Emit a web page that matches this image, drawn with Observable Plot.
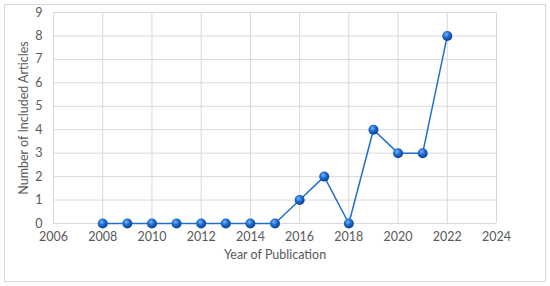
<!DOCTYPE html>
<html>
<head>
<meta charset="utf-8">
<script src="https://cdn.jsdelivr.net/npm/d3@7"></script>
<script src="https://cdn.jsdelivr.net/npm/@observablehq/plot@0.6"></script>
<style>
  html, body { margin: 0; padding: 0; background: #fff; }
  #chart { position: relative; width: 550px; height: 286px; }
  #frame { position: absolute; left: 4px; top: 4px; width: 542px; height: 278px; border: 1px solid #d9d9d9; box-sizing: border-box; }
  #chart svg { position: absolute; left: 0; top: 0; }
</style>
</head>
<body>
<div id="chart"><div id="frame"></div></div>
<script>
const years = [2008, 2009, 2010, 2011, 2012, 2013, 2014, 2015, 2016, 2017, 2018, 2019, 2020, 2021, 2022];
const counts = [0, 0, 0, 0, 0, 0, 0, 0, 1, 2, 0, 4, 3, 3, 8];
const xTicks = [2006, 2008, 2010, 2012, 2014, 2016, 2018, 2020, 2022, 2024];
const yTicks = [0, 1, 2, 3, 4, 5, 6, 7, 8, 9];

const data = years.map((y, i) => ({year: y, count: counts[i]}));
const font = "Lato, 'Open Sans', sans-serif";

const plot = Plot.plot({
  width: 550,
  height: 286,
  marginLeft: 53,
  marginRight: 54,
  marginTop: 12,
  marginBottom: 63,
  style: {fontFamily: font, fontSize: "12px", color: "#595959", background: "transparent", overflow: "visible"},
  x: {domain: [2006, 2024], ticks: xTicks, tickFormat: d => String(d), label: null, tickSize: 0, tickPadding: 9},
  y: {domain: [0, 9], ticks: yTicks, label: null, tickSize: 0, tickPadding: 12},
  marks: [
    Plot.gridX(xTicks, {stroke: "#d9d9d9", strokeOpacity: 1, strokeWidth: 1}),
    Plot.gridY(yTicks, {stroke: "#d9d9d9", strokeOpacity: 1, strokeWidth: 1}),
    Plot.axisX({ticks: xTicks, tickFormat: d => String(d), tickSize: 0, tickPadding: 9, fontSize: 12.5, fill: "#595959", label: null}),
    Plot.axisY({ticks: yTicks, tickSize: 0, tickPadding: 11, fontSize: 12.5, fill: "#595959", label: null}),
    Plot.line(data, {x: "year", y: "count", stroke: "#1f6fd1", strokeWidth: 1.5}),
    Plot.dot(data, {x: "year", y: "count", r: 5, fill: "url(#ball)", stroke: "none"}),
    Plot.text(["Year of Publication"], {frameAnchor: "bottom", dy: 35, fontSize: 12.5, fill: "#595959", fontFamily: font}),
    Plot.text(["Number of Included Articles"], {frameAnchor: "left", textAnchor: "middle", dx: -30, rotate: -90, fontSize: 12.5, fill: "#595959", fontFamily: font})
  ]
});

const svg = d3.select(plot);
const defs = svg.insert("defs", ":first-child");
const g = defs.append("radialGradient").attr("id", "ball").attr("cx", "40%").attr("cy", "35%").attr("r", "65%");
g.append("stop").attr("offset", "0%").attr("stop-color", "#7fb6f5");
g.append("stop").attr("offset", "45%").attr("stop-color", "#1e6fd6");
g.append("stop").attr("offset", "100%").attr("stop-color", "#0a3f8f");

document.getElementById("chart").appendChild(plot);
</script>
</body>
</html>
